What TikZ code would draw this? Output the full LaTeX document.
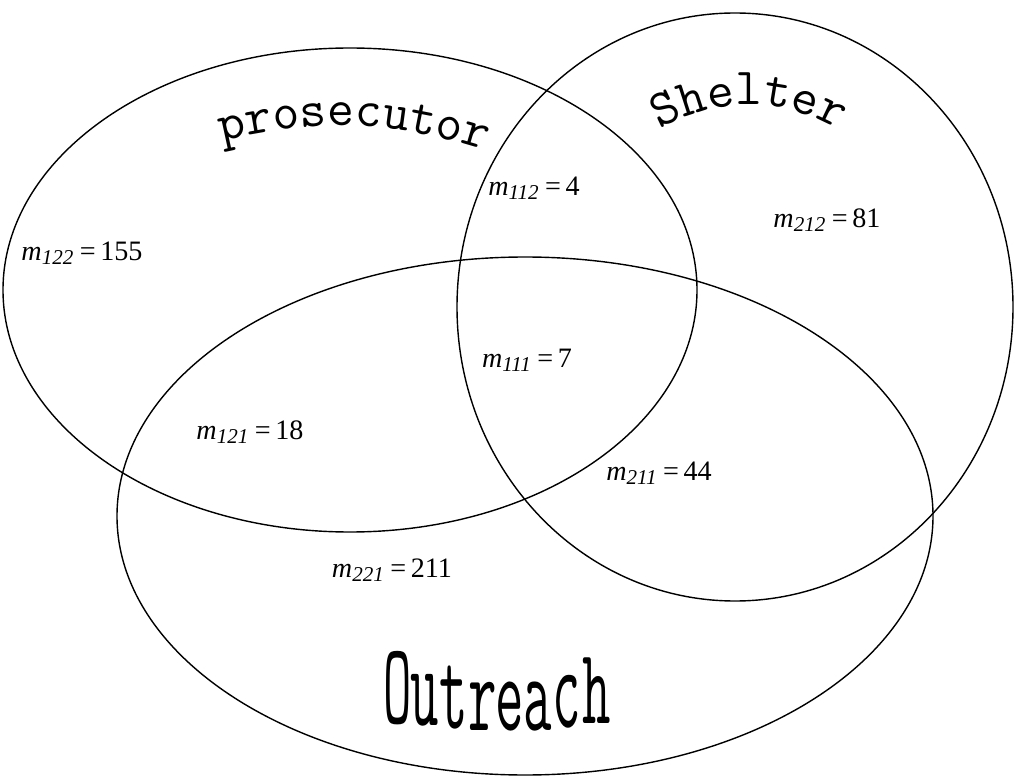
\documentclass[tikz,border=0pt]{standalone}
\usepackage{fontspec}
\usetikzlibrary{decorations.text}
\newfontfamily\countfont{Liberation Serif}
\newcommand{\mcount}[2]{\textit{m}\textsubscript{\textit{#1}}\,=\,#2}

\tikzset{
  setline/.style={line width=0.4pt},
  countlabel/.style={font=\countfont\fontsize{8}{10}\selectfont,inner sep=0pt},
  outletter/.style={font=\ttfamily\fontsize{15.7}{18}\selectfont,inner sep=0pt,anchor=base},
}

\begin{document}
\begin{tikzpicture}
  \useasboundingbox (0,0) rectangle (10.19,7.76);
  % the three sets
  \coordinate (pcen) at (3.50,4.86);
  \coordinate (scen) at (7.35,4.69);
  \coordinate (ocen) at (5.25,2.60);
  \draw[setline] (pcen) ellipse [x radius=3.47, y radius=2.42];
  \draw[setline] (scen) ellipse [x radius=2.78, y radius=2.94];
  \draw[setline] (ocen) ellipse [x radius=4.08, y radius=2.59];

  % curved titles
  \coordinate (pros-l) at (2.10,6.32);
  \coordinate (pros-r) at (4.97,6.22);
  \path[decorate,decoration={text along path,text align=center,
        text={|\ttfamily\fontsize{14.8}{17}\selectfont|prosecutor}}]
    (pros-l) to[bend left=16] (pros-r);
  \coordinate (shel-l) at (6.48,6.40);
  \coordinate (shel-r) at (8.50,6.40);
  \path[decorate,decoration={text along path,text align=center,
        text={|\ttfamily\fontsize{14.8}{17}\selectfont|Shelter}}]
    (shel-l) to[bend left=32] (shel-r);
  \foreach \chr/\x/\b/\s [count=\i] in {O/3.98/0.53/2.1, u/4.25/0.51/2.15,
      t/4.54/0.48/2.05, r/4.83/0.46/2.0, e/5.10/0.46/2.0, a/5.38/0.46/2.0,
      c/5.67/0.49/2.15, h/5.97/0.53/1.95}
    \node[outletter,yscale=\s] (out\i) at (\x,\b) {\chr};

  % cell counts
  \node[countlabel] (m122) at (0.82,5.23) {\mcount{122}{155}};
  \node[countlabel] (m112) at (5.34,5.88) {\mcount{112}{4}};
  \node[countlabel] (m212) at (8.27,5.56) {\mcount{212}{81}};
  \node[countlabel] (m111) at (5.27,4.16) {\mcount{111}{7}};
  \node[countlabel] (m121) at (2.50,3.44) {\mcount{121}{18}};
  \node[countlabel] (m211) at (6.59,3.03) {\mcount{211}{44}};
  \node[countlabel] (m221) at (3.92,2.06) {\mcount{221}{211}};
\end{tikzpicture}
\end{document}
